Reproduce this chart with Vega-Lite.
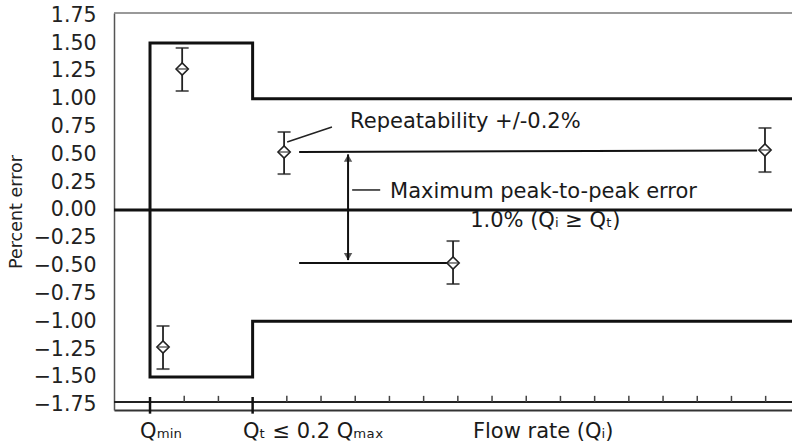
{
  "$schema": "https://vega.github.io/schema/vega-lite/v6.json",
  "width": 678,
  "height": 397,
  "autosize": {"type": "none"},
  "padding": {"left": 114, "top": 13, "right": 0, "bottom": 33},
  "background": "white",
  "config": {
    "view": {"stroke": null},
    "font": "DejaVu Sans",
    "axis": {"grid": false, "labelOverlap": false},
    "axisY": {"labelOverlap": false}
  },
  "resolve": {"axis": {"x": "independent", "y": "independent"}},
  "datasets": {
    "envelope": [
      {"i": 1, "x": 18.77, "y": 1.0},
      {"i": 2, "x": 3.0, "y": 1.0},
      {"i": 3, "x": 3.0, "y": 1.5},
      {"i": 4, "x": 0.0, "y": 1.5},
      {"i": 5, "x": 0.0, "y": -1.5},
      {"i": 6, "x": 3.0, "y": -1.5},
      {"i": 7, "x": 3.0, "y": -1.0},
      {"i": 8, "x": 18.77, "y": -1.0}
    ],
    "points": [
      {"x": 0.94, "y": 1.267, "lo": 1.069, "hi": 1.456},
      {"x": 0.38, "y": -1.231, "lo": -1.429, "hi": -1.042},
      {"x": 3.92, "y": 0.521, "lo": 0.323, "hi": 0.701},
      {"x": 8.86, "y": -0.476, "lo": -0.665, "hi": -0.279},
      {"x": 17.98, "y": 0.539, "lo": 0.341, "hi": 0.737}
    ],
    "reflines": [
      {"x": 4.36, "x2": 17.75, "y": 0.52, "y2": 0.535},
      {"x": 4.36, "x2": 8.71, "y": -0.476, "y2": -0.476},
      {"x": 5.79, "x2": 5.79, "y": 0.5, "y2": -0.45}
    ],
    "leaders": [
      {"x": 4.01, "x2": 5.32, "y": 0.611, "y2": 0.746},
      {"x": 5.91, "x2": 6.73, "y": 0.18, "y2": 0.18}
    ],
    "arrowUp": [{"x": 5.79, "y": 0.467}],
    "arrowDown": [{"x": 5.79, "y": -0.42}],
    "minorTicks": [
      {"x": 1}, {"x": 2}, {"x": 4}, {"x": 5}, {"x": 6}, {"x": 7}, {"x": 8}, {"x": 9},
      {"x": 10}, {"x": 11}, {"x": 12}, {"x": 13}, {"x": 14}, {"x": 15}, {"x": 16}, {"x": 17}, {"x": 18}
    ],
    "majorTicks": [{"x": 0}, {"x": 3}],
    "labels": [
      {"x": 5.85, "y": 0.737, "label": "Repeatability +/-0.2%"},
      {"x": 7.02, "y": 0.108, "label": "Maximum peak-to-peak error"},
      {"x": 9.36, "y": -0.15, "label": "1.0% (Qᵢ ≥ Qₜ)"},
      {"x": -0.29, "y": -2.05, "label": "Qₘᵢₙ"},
      {"x": 2.72, "y": -2.05, "label": "Qₜ ≤ 0.2 Qₘₐₓ"},
      {"x": 9.44, "y": -2.05, "label": "Flow rate (Qᵢ)"}
    ]
  },
  "layer": [
    {
      "data": {"name": "envelope"},
      "mark": {"type": "line", "color": "#111", "strokeWidth": 3, "strokeJoin": "miter"},
      "encoding": {
        "x": {"field": "x", "type": "quantitative", "scale": {"domain": [-1.053, 18.77], "nice": false, "zero": false},
              "axis": {"labels": false, "ticks": false, "title": null, "domain": true, "domainColor": "#333", "domainWidth": 2}},
        "y": {"field": "y", "type": "quantitative", "scale": {"domain": [-1.797, 1.77], "nice": false, "zero": false},
              "axis": {"values": [-1.75, -1.5, -1.25, -1.0, -0.75, -0.5, -0.25, 0, 0.25, 0.5, 0.75, 1.0, 1.25, 1.5, 1.75],
                       "format": ".2f", "ticks": false, "labelPadding": 18, "labelFontSize": 20.5, "labelColor": "#222",
                       "labelOverlap": false, "labelBound": false, "labelFlush": false,
                       "labelFont": "DejaVu Sans", "domainColor": "#555", "domainWidth": 1.5,
                       "title": "Percent error", "titleFontSize": 17.5, "titleFontWeight": "normal", "titleColor": "#222",
                       "titleFont": "DejaVu Sans", "titlePadding": 8}},
        "order": {"field": "i", "type": "quantitative"}
      }
    },
    {
      "data": {"values": [{"y": 0}]},
      "mark": {"type": "rule", "color": "#111", "strokeWidth": 3},
      "encoding": {"y": {"field": "y", "type": "quantitative", "axis": null}}
    },
    {
      "data": {"values": [{"y": 1.77}]},
      "mark": {"type": "rule", "color": "#777", "strokeWidth": 1.5},
      "encoding": {"y": {"field": "y", "type": "quantitative", "axis": null}}
    },
    {
      "data": {"values": [{"y": -1.725}]},
      "mark": {"type": "rule", "color": "#222", "strokeWidth": 2},
      "encoding": {"y": {"field": "y", "type": "quantitative", "axis": null}}
    },
    {
      "data": {"name": "minorTicks"},
      "mark": {"type": "rule", "color": "#444", "strokeWidth": 1.5},
      "encoding": {
        "x": {"field": "x", "type": "quantitative", "axis": null},
        "y": {"datum": -1.67, "axis": null},
        "y2": {"datum": -1.725}
      }
    },
    {
      "data": {"name": "majorTicks"},
      "mark": {"type": "rule", "color": "#111", "strokeWidth": 2.5},
      "encoding": {
        "x": {"field": "x", "type": "quantitative", "axis": null},
        "y": {"datum": -1.68, "axis": null},
        "y2": {"datum": -1.83}
      }
    },
    {
      "data": {"name": "reflines"},
      "mark": {"type": "rule", "color": "#111", "strokeWidth": 2},
      "encoding": {
        "x": {"field": "x", "type": "quantitative", "axis": null},
        "x2": {"field": "x2"},
        "y": {"field": "y", "type": "quantitative", "axis": null},
        "y2": {"field": "y2"}
      }
    },
    {
      "data": {"name": "leaders"},
      "mark": {"type": "rule", "color": "#222", "strokeWidth": 1.5},
      "encoding": {
        "x": {"field": "x", "type": "quantitative", "axis": null},
        "x2": {"field": "x2"},
        "y": {"field": "y", "type": "quantitative", "axis": null},
        "y2": {"field": "y2"}
      }
    },
    {
      "data": {"name": "arrowUp"},
      "mark": {"type": "point", "shape": "triangle-up", "filled": true, "color": "#111", "size": 70},
      "encoding": {"x": {"field": "x", "type": "quantitative", "axis": null}, "y": {"field": "y", "type": "quantitative", "axis": null}}
    },
    {
      "data": {"name": "arrowDown"},
      "mark": {"type": "point", "shape": "triangle-down", "filled": true, "color": "#111", "size": 70},
      "encoding": {"x": {"field": "x", "type": "quantitative", "axis": null}, "y": {"field": "y", "type": "quantitative", "axis": null}}
    },
    {
      "data": {"name": "points"},
      "mark": {"type": "rule", "color": "#222", "strokeWidth": 1.8},
      "encoding": {
        "x": {"field": "x", "type": "quantitative", "axis": null},
        "y": {"field": "lo", "type": "quantitative", "axis": null},
        "y2": {"field": "hi"}
      }
    },
    {
      "data": {"name": "points"},
      "mark": {"type": "tick", "orient": "horizontal", "color": "#222", "size": 13, "thickness": 2},
      "encoding": {"x": {"field": "x", "type": "quantitative", "axis": null}, "y": {"field": "lo", "type": "quantitative", "axis": null}}
    },
    {
      "data": {"name": "points"},
      "mark": {"type": "tick", "orient": "horizontal", "color": "#222", "size": 13, "thickness": 2},
      "encoding": {"x": {"field": "x", "type": "quantitative", "axis": null}, "y": {"field": "hi", "type": "quantitative", "axis": null}}
    },
    {
      "data": {"name": "points"},
      "mark": {"type": "point", "shape": "diamond", "filled": false, "fill": "white", "fillOpacity": 1, "stroke": "#222", "strokeWidth": 1.6, "size": 150, "opacity": 1},
      "encoding": {"x": {"field": "x", "type": "quantitative", "axis": null}, "y": {"field": "y", "type": "quantitative", "axis": null}}
    },
    {
      "data": {"name": "points"},
      "mark": {"type": "tick", "orient": "horizontal", "color": "#222", "size": 10, "thickness": 1.5},
      "encoding": {"x": {"field": "x", "type": "quantitative", "axis": null}, "y": {"field": "y", "type": "quantitative", "axis": null}}
    },
    {
      "data": {"name": "labels"},
      "mark": {"type": "text", "align": "left", "baseline": "alphabetic", "font": "DejaVu Sans", "fontSize": 21, "color": "#1a1a1a"},
      "encoding": {
        "x": {"field": "x", "type": "quantitative", "axis": null},
        "y": {"field": "y", "type": "quantitative", "axis": null},
        "text": {"field": "label"}
      }
    }
  ]
}
